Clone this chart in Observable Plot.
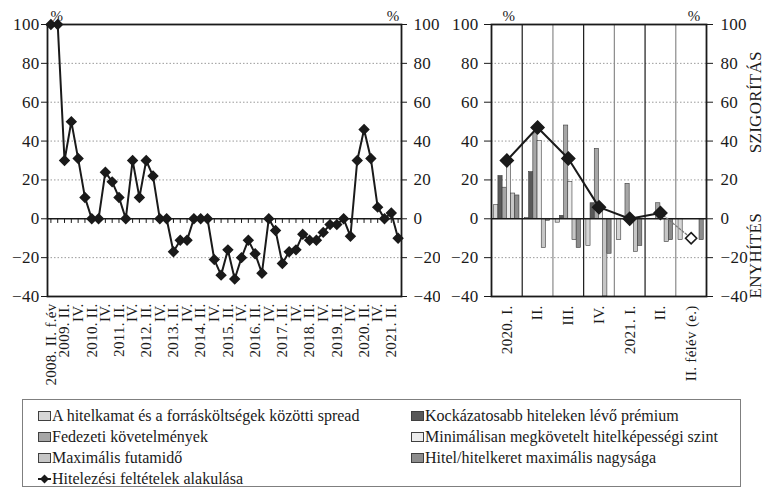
<!DOCTYPE html>
<html><head><meta charset="utf-8">
<script src="https://cdn.jsdelivr.net/npm/d3@7"></script>
<script src="https://cdn.jsdelivr.net/npm/@observablehq/plot@0.6"></script>
<style>
body{margin:0;background:#fff;font-family:"Liberation Serif",serif;}
#wrap{position:relative;width:769px;height:489px;overflow:hidden;background:#fff;}
#left{position:absolute;left:0;top:0;}
#right{position:absolute;left:430px;top:0;}
#legend{position:absolute;left:22px;top:399px;width:719px;height:88px;border:1px solid #7f7f7f;box-sizing:border-box;font-size:16px;color:#1a1a1a;}
.item{position:absolute;display:flex;align-items:center;white-space:nowrap;height:16px;}
.sw{width:11px;height:8px;border:1px solid #404040;margin-right:1px;}
svg text{letter-spacing:0.3px;}
</style></head><body>
<div id="wrap"><div id="left"></div><div id="right"></div><div id="legend"></div></div>
<script>
// ---- Left chart data ----
const leftLabels = ["2008. II. f.év",
  "","2009. II.","","IV.",
  "","2010. II.","","IV.",
  "","2011. II.","","IV.",
  "","2012. II.","","IV.",
  "","2013. II.","","IV.",
  "","2014. II.","","IV.",
  "","2015. II.","","IV.",
  "","2016. II.","","IV.",
  "","2017. II.","","IV.",
  "","2018. II.","","IV.",
  "","2019. II.","","IV.",
  "","2020. II.","","IV.",
  "","2021. II.",""];
const leftValues = [100,100,30,50,31,11,0,0,24,19,11,0,30,11,30,22,0,0,-17,-11,-11,0,0,0,-21,-29,-16,-31,-20,-11,-18,-28,0,-6,-23,-17,-16,-8,-11,-11,-7,-3,-3,0,-9,30,46,31,6,0,3,-10];

// ---- Right chart data ----
const rightGroups = ["2020. I.","II.","III.","IV.","2021. I.","II.","II. félév (e.)"];
const spread     = [7, 0.5, -2, -14, -11, 0, -11];
const premium    = [22, 24, 1.5, 8, 0, 0, 0];
const collateral = [16, 44, 48, 36, 18, 8, 0];
const minCredit  = [28, 40, 19, 7, 0, 0, 0];
const maturity   = [13, -15, -11, -40, -17, -12, 0];
const maxSize    = [12, -1, -15, -18, -14, -11, -11];
const conditions = [30, 47, 31, 6, 0, 3, -10];

const seriesNames = ["A hitelkamat és a forrásköltségek közötti spread","Kockázatosabb hiteleken lévő prémium","Fedezeti követelmények","Minimálisan megkövetelt hitelképességi szint","Maximális futamidő","Hitel/hitelkeret maximális nagysága"];
const seriesColors = ["#d6d6d6","#595959","#a6a6a6","#ececec","#c6c6c6","#8c8c8c"];
const lineName = "Hitelezési feltételek alakulása";
const yTicks = [-40,-20,0,20,40,60,80,100];

const FONT = "Liberation Serif, Times New Roman, serif";
const INK = "#1a1a1a";

// ---- Left chart ----
const leftIdx = leftValues.map((v,i)=>i);
const leftTickIdx = leftIdx.filter(i=>leftLabels[i] !== "");
const left = Plot.plot({
  width:440, height:395, marginLeft:47, marginRight:39, marginTop:24, marginBottom:99,
  style:{fontFamily:FONT, fontSize:"17px", color:INK, background:"transparent"},
  x:{domain:[-0.5, leftValues.length-0.5]},
  y:{domain:[-40,100]},
  marks:[
    Plot.gridY(yTicks.filter(t=>t!==0 && t!==100 && t!==-40), {stroke:"#9a9a9a", strokeOpacity:1, strokeDasharray:"1.5,2"}),
    Plot.ruleY([0], {stroke:INK, strokeWidth:1.5}),
    Plot.ruleX(leftIdx, {x:d=>d, y1:0, y2:-2.4, stroke:INK, strokeWidth:1}),
    Plot.frame({stroke:INK, strokeWidth:1.8}),
    Plot.axisY(yTicks, {anchor:"left", label:null, tickSize:6, tickPadding:2, fontSize:17}),
    Plot.axisY(yTicks, {anchor:"right", label:null, tickSize:5, tickPadding:7, fontSize:17}),
    Plot.axisX(leftTickIdx, {anchor:"bottom", label:null, tickSize:0, tickPadding:7, tickRotate:-90, tickFormat:i=>leftLabels[i], fontSize:15}),
    Plot.line(leftIdx, {x:d=>d, y:i=>leftValues[i], stroke:INK, strokeWidth:2}),
    Plot.dot(leftIdx, {x:d=>d, y:i=>leftValues[i], symbol:"diamond2", r:4.2, fill:INK, stroke:INK}),
    Plot.text(["%"], {frameAnchor:"top-left", dx:3, dy:-14, fontSize:15}),
    Plot.text(["%"], {frameAnchor:"top-right", dx:-2, dy:-14, fontSize:15})
  ]
});
document.getElementById("left").appendChild(left);

// ---- Right chart ----
const groupIdx = rightGroups.map((g,i)=>i);
const series = [spread, premium, collateral, minCredit, maturity, maxSize];
const barData = [];
series.forEach((vals,k)=>vals.forEach((v,i)=>barData.push({k, i, v})));
const pad = 0.088, bw = 0.137;
const sepIdx = groupIdx.slice(0,-1);
const right = Plot.plot({
  width:339, height:395, marginLeft:61, marginRight:63, marginTop:24, marginBottom:99,
  style:{fontFamily:FONT, fontSize:"17px", color:INK, background:"transparent"},
  x:{domain:[-0.5, rightGroups.length-0.5]},
  y:{domain:[-40,100]},
  color:{type:"identity"},
  marks:[
    Plot.gridY(yTicks.filter(t=>t!==0 && t!==100 && t!==-40), {stroke:"#9a9a9a", strokeOpacity:1, strokeDasharray:"1.5,2"}),
    Plot.ruleX(sepIdx, {x:i=>i+0.5, stroke:i=>i%2===0?"#1a1a1a":"#8a8a8a", strokeWidth:1.2}),
    Plot.rectY(barData, {x1:d=>d.i-0.5+pad+d.k*bw, x2:d=>d.i-0.5+pad+(d.k+1)*bw, y1:0, y2:d=>d.v, fill:d=>seriesColors[d.k], stroke:"#3a3a3a", strokeWidth:0.6}),
    Plot.ruleY([0], {stroke:INK, strokeWidth:1.5}),
    Plot.frame({stroke:INK, strokeWidth:1.8}),
    Plot.axisY(yTicks, {anchor:"left", label:null, tickSize:7, tickPadding:6, fontSize:17}),
    Plot.axisY(yTicks, {anchor:"right", label:null, tickSize:6, tickPadding:8, fontSize:17}),
    Plot.axisX(groupIdx, {anchor:"bottom", label:null, tickSize:0, tickPadding:9, tickRotate:-90, tickFormat:i=>rightGroups[i], fontSize:15}),
    Plot.line(groupIdx.slice(5), {x:d=>d, y:i=>conditions[i], stroke:"#7a7a7a", strokeWidth:1.3, strokeDasharray:"2,2"}),
    Plot.line(groupIdx.slice(0,6), {x:d=>d, y:i=>conditions[i], stroke:INK, strokeWidth:2}),
    Plot.dot(groupIdx.slice(0,6), {x:d=>d, y:i=>conditions[i], symbol:"diamond2", r:5.8, fill:INK, stroke:INK}),
    Plot.dot(groupIdx.slice(6), {x:d=>d, y:i=>conditions[i], symbol:"diamond2", r:5, fill:"#fff", stroke:INK, strokeWidth:1.6}),
    Plot.text(["%"], {frameAnchor:"top-left", dx:11, dy:-14, fontSize:15}),
    Plot.text(["%"], {frameAnchor:"top-right", dx:-6, dy:-14, fontSize:15}),
    Plot.text(["SZIGORÍTÁS"], {x:()=>rightGroups.length-0.5, y:()=>60, dx:49, rotate:-90, fontSize:17}),
    Plot.text(["ENYHÍTÉS"], {x:()=>rightGroups.length-0.5, y:()=>-19, dx:49, rotate:-90, fontSize:17})
  ]
});
document.getElementById("right").appendChild(right);

// ---- Legend ----
const legend = document.getElementById("legend");
const pos = [[15,8],[388,8],[15,29],[388,29],[15,50],[388,50]];
seriesNames.forEach((name,k)=>{
  const it = document.createElement("div");
  it.className = "item";
  it.style.left = pos[k][0]+"px"; it.style.top = pos[k][1]+"px";
  it.innerHTML = `<span class="sw" style="background:${seriesColors[k]}"></span><span>${name}</span>`;
  legend.appendChild(it);
});
const li = document.createElement("div");
li.className = "item";
li.style.left = "15px"; li.style.top = "71px";
li.innerHTML = `<svg width="13" height="12" style="margin-right:1px"><line x1="0" y1="6" x2="13" y2="6" stroke="${INK}" stroke-width="2"/><path d="M6.5 1.5 L11 6 L6.5 10.5 L2 6 Z" fill="${INK}"/></svg><span>${lineName}</span>`;
legend.appendChild(li);
</script>
</body></html>
